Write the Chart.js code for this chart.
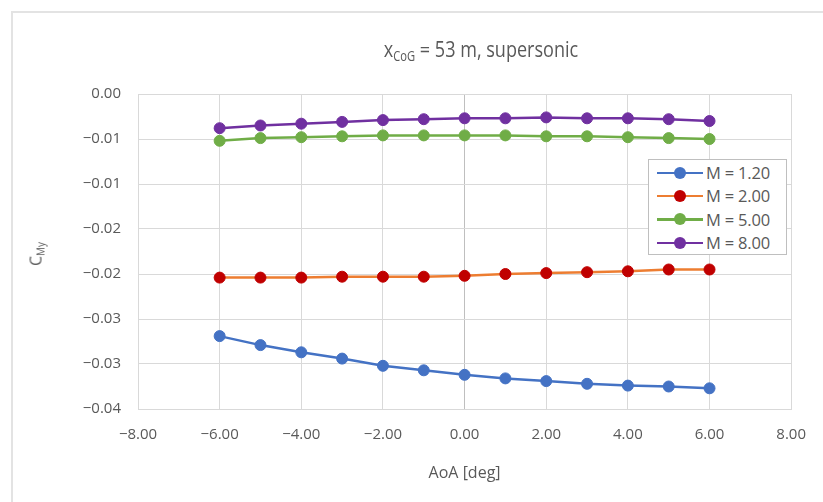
<!DOCTYPE html>
<html lang="en">
<head>
<meta charset="UTF-8">
<title>CMy vs AoA, supersonic</title>
<script src="https://cdn.jsdelivr.net/npm/chart.js"></script>
<style>
  html, body { margin: 0; padding: 0; background: #fff; }
  body { width: 823px; height: 502px; position: relative; overflow: hidden; font-family: "Open Sans", sans-serif; color: #595959; }
  #frame { position: absolute; left: 11px; top: 11px; width: 900px; height: 600px; border-left: 2px solid #e3e3e3; border-top: 2px solid #e3e3e3; }
  #myChart { position: absolute; left: 0; top: 0; }
  #title { position: absolute; left: 481px; top: 33px; transform: translateX(-50%) scaleX(0.82); font-size: 22px; white-space: nowrap; }
  #title sub, #ytitle sub { font-size: 0.62em; vertical-align: -0.3em; }
  #ytitle { position: absolute; left: 36px; top: 254px; transform: translate(-50%, -50%) rotate(-90deg); font-size: 16px; white-space: nowrap; }
  #legend { position: absolute; left: 648px; top: 159px; width: 139px; height: 96px; border: 1px solid #bfbfbf; background: #fff; box-sizing: border-box; padding-top: 1px; }
  .item { height: 23.3px; display: flex; align-items: center; font-size: 16.5px; letter-spacing: -0.2px; }
  .sym { position: relative; width: 46px; height: 12px; margin-left: 8px; margin-right: 3px; flex: none; }
  .sym .ln { position: absolute; left: 0; right: 0; top: 5px; height: 2.5px; }
  .sym .dot { position: absolute; left: 17px; top: 0; width: 12px; height: 12px; border-radius: 50%; }
</style>
</head>
<body>
<div id="frame"></div>
<canvas id="myChart" width="823" height="502"></canvas>
<div id="title">x<sub>CoG</sub> = 53 m, supersonic</div>
<div id="ytitle">C<sub>My</sub></div>
<div id="legend"></div>
<script>
// angle of attack [deg]
const aoa = [-6, -5, -4, -3, -2, -1, 0, 1, 2, 3, 4, 5, 6];

// pitching moment coefficient per Mach number
const cmyM120 = [-0.0269, -0.0279, -0.0287, -0.0294, -0.0302, -0.0307, -0.0312, -0.0316, -0.0319, -0.0322, -0.0324, -0.0325, -0.0327];
const cmyM200 = [-0.0204, -0.0204, -0.0204, -0.0203, -0.0203, -0.0203, -0.0202, -0.0200, -0.0199, -0.0198, -0.0197, -0.0195, -0.0195];
const cmyM500 = [-0.0052, -0.0049, -0.0048, -0.0047, -0.0046, -0.0046, -0.0046, -0.0046, -0.0047, -0.0047, -0.0048, -0.0049, -0.0050];
const cmyM800 = [-0.0038, -0.0035, -0.0033, -0.0031, -0.0029, -0.0028, -0.0027, -0.0027, -0.0026, -0.0027, -0.0027, -0.0028, -0.0030];

const seriesLabels = ['M = 1.20', 'M = 2.00', 'M = 5.00', 'M = 8.00'];

// axis ticks (labels as printed, rounded to two decimals)
const xTickValues = [-8, -6, -4, -2, 0, 2, 4, 6, 8];
const xTickLabels = ['\u22128.00', '\u22126.00', '\u22124.00', '\u22122.00', '0.00', '2.00', '4.00', '6.00', '8.00'];
const yTickValues = [0, -0.005, -0.01, -0.015, -0.02, -0.025, -0.03, -0.035];
const yTickLabels = ['0.00', '\u22120.01', '\u22120.01', '\u22120.02', '\u22120.02', '\u22120.03', '\u22120.03', '\u22120.04'];

function labelFor(values, labels, v) {
    const i = values.findIndex(t => Math.abs(t - v) < 1e-9);
    return i < 0 ? '' : labels[i];
}

function series(label, ys, lineColor, markerColor) {
    return {
        label: label,
        data: aoa.map((x, i) => ({ x: x, y: ys[i] })),
        showLine: true,
        borderColor: lineColor,
        backgroundColor: markerColor,
        borderWidth: 2.5,
        pointRadius: 5.5,
        pointBackgroundColor: markerColor,
        pointBorderColor: markerColor,
        pointBorderWidth: 1,
        fill: false
    };
}

Chart.defaults.font.family = '"Open Sans", sans-serif';
Chart.defaults.color = '#595959';

const ctx = document.getElementById('myChart').getContext('2d');
const chart = new Chart(ctx, {
    type: 'scatter',
    data: {
        datasets: [
            series(seriesLabels[0], cmyM120, '#4472C4', '#4472C4'),
            series(seriesLabels[1], cmyM200, '#ED7D31', '#C00000'),
            series(seriesLabels[2], cmyM500, '#70AD47', '#70AD47'),
            series(seriesLabels[3], cmyM800, '#7030A0', '#7030A0')
        ]
    },
    options: {
        responsive: false,
        animation: false,
        layout: { padding: { top: 94, right: 31, bottom: 0, left: 0 } },
        plugins: {
            legend: { display: false },
            title: { display: false },
            tooltip: { enabled: false }
        },
        scales: {
            x: {
                type: 'linear',
                min: -8,
                max: 8,
                afterFit: s => { s.height = 93; },
                afterBuildTicks: s => { s.ticks = xTickValues.map(v => ({ value: v })); },
                ticks: {
                    padding: 17,
                    font: { size: 15 },
                    color: '#595959',
                    maxRotation: 0,
                    callback: v => labelFor(xTickValues, xTickLabels, v)
                },
                grid: {
                    drawTicks: false,
                    color: c => (c.tick && c.tick.value === 0) ? '#bfbfbf' : '#d9d9d9',
                    lineWidth: 1
                },
                border: { display: true, color: '#d9d9d9' },
                title: {
                    display: true,
                    text: 'AoA [deg]',
                    font: { size: 16 },
                    color: '#595959',
                    padding: { top: 0, bottom: 19 }
                }
            },
            y: {
                type: 'linear',
                min: -0.035,
                max: 0,
                afterFit: s => { s.width = 138; },
                afterBuildTicks: s => { s.ticks = yTickValues.map(v => ({ value: v })); },
                ticks: {
                    padding: 17,
                    font: { size: 15 },
                    color: '#595959',
                    callback: v => labelFor(yTickValues, yTickLabels, v)
                },
                grid: { drawTicks: false, color: '#d9d9d9', lineWidth: 1 },
                border: { display: true, color: '#d9d9d9' }
            }
        }
    }
});

// legend box inside the plot, built from the chart's datasets
const legendEl = document.getElementById('legend');
chart.data.datasets.forEach(ds => {
    const row = document.createElement('div');
    row.className = 'item';
    row.innerHTML = '<span class="sym"><span class="ln" style="background:' + ds.borderColor + '"></span>' +
        '<span class="dot" style="background:' + ds.pointBackgroundColor + '"></span></span>' + ds.label;
    legendEl.appendChild(row);
});
</script>
</body>
</html>
